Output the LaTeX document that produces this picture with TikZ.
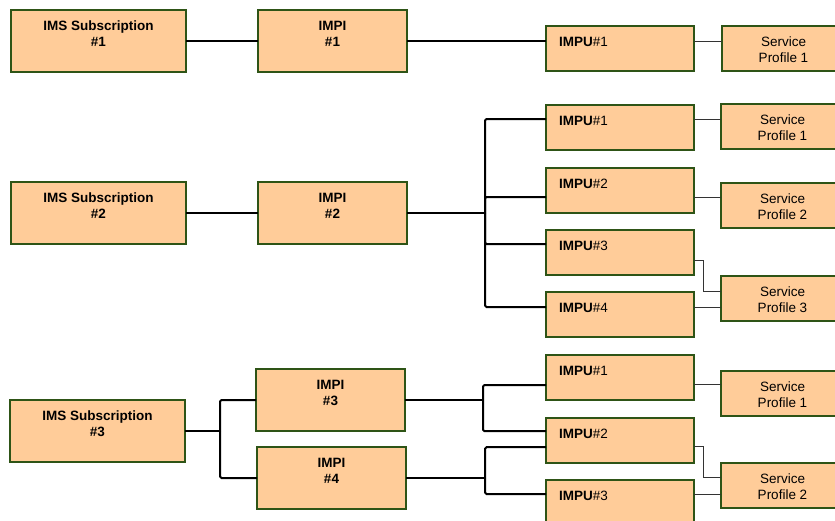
\documentclass[tikz,border=0pt]{standalone}
\usepackage{fontspec}
\setmainfont{Liberation Sans}

\definecolor{boxfill}{RGB}{255,204,153}
\definecolor{boxline}{RGB}{46,84,22}
\definecolor{linkgray}{RGB}{51,51,51}

\newcommand{\boxfont}{\fontsize{13.5}{16}\selectfont}
\newcommand{\threelines}[2]{\rule{0pt}{15.5pt}#1\\\strut#2\\\strut}
\newcommand{\twolines}[2]{\rule{0pt}{16.5pt}#1\\\strut#2}

\begin{document}
\begin{tikzpicture}[x=1pt,y=-1pt,
    box/.style={draw=boxline, fill=boxfill, line width=1.2pt, anchor=north west,
        inner sep=0pt, outer sep=0pt, font=\boxfont, align=center},
    subbox/.style={box, minimum width=175pt, minimum height=62pt, font=\boxfont\bfseries},
    impibox/.style={box, minimum width=149pt, minimum height=62pt, font=\boxfont\bfseries},
    impubox/.style={box, minimum width=148pt, minimum height=45pt, align=left,
        inner xsep=13pt, text width=122pt},
    spbox/.style={box, minimum width=123pt, minimum height=45pt},
    trunk/.style={line width=2pt, black, rounded corners=1.5pt},
    link/.style={line width=1pt, linkgray}]
    \useasboundingbox (0,0) rectangle (835,520);

    % subscription #1
    \node[subbox] (sub1) at (11,10) {\threelines{IMS Subscription}{\#1}};
    \node[impibox] (impi1) at (258,10) {\threelines{IMPI}{\#1}};
    \node[impubox] (impu11) at (546,26) {\twolines{\textbf{IMPU}\#1}{}};
    \node[spbox] (sp11) at (722,26) {\twolines{Service}{Profile 1}};

    \draw[trunk] (sub1) -- (impi1);
    \draw[trunk] (impi1.east) -- (impi1.east -| impu11.west);
    \draw[link] ([yshift=7pt]impu11.east) coordinate (p11) -- (p11 -| sp11.west);

    % subscription #2
    \node[subbox] (sub2) at (11,182) {\threelines{IMS Subscription}{\#2}};
    \node[impibox] (impi2) at (258,182) {\threelines{IMPI}{\#2}};
    \node[impubox] (impu21) at (546,105) {\twolines{\textbf{IMPU}\#1}{}};
    \node[impubox] (impu22) at (546,168) {\twolines{\textbf{IMPU}\#2}{}};
    \node[impubox] (impu23) at (546,230) {\twolines{\textbf{IMPU}\#3}{}};
    \node[impubox] (impu24) at (546,292) {\twolines{\textbf{IMPU}\#4}{}};
    \node[spbox] (sp21) at (721,104) {\twolines{Service}{Profile 1}};
    \node[spbox] (sp22) at (721,183) {\twolines{Service}{Profile 2}};
    \node[spbox] (sp23) at (721,276) {\twolines{Service}{Profile 3}};

    \coordinate (bus2) at (485,213);
    \draw[trunk] (sub2) -- (impi2);
    \draw[trunk] (impi2.east) -- (bus2);
    \foreach \n/\s in {1/8.5,2/-6.5,3/8.5,4/7.5}
        \draw[trunk] (bus2) |- ([yshift=\s pt]impu2\n.west);

    \draw[link] ([yshift=8.5pt]impu21.east) coordinate (p21) -- (p21 -| sp21.west);
    \draw[link] ([yshift=-6.5pt]impu22.east) coordinate (p22) -- (p22 -| sp22.west);
    \draw[link] ([yshift=-7.5pt]impu23.east) -- ++(9,0) |- ([yshift=7.5pt]sp23.west);
    \draw[link] ([yshift=7.5pt]impu24.east) coordinate (p24) -- (p24 -| sp23.west);

    % subscription #3
    \node[subbox] (sub3) at (10,400) {\threelines{IMS Subscription}{\#3}};
    \node[impibox] (impi3) at (256,369) {\threelines{IMPI}{\#3}};
    \node[impibox] (impi4) at (257,447) {\threelines{IMPI}{\#4}};
    \node[impubox] (impu31) at (546,355) {\twolines{\textbf{IMPU}\#1}{}};
    \node[impubox] (impu32) at (546,418) {\twolines{\textbf{IMPU}\#2}{}};
    \node[impubox] (impu33) at (546,480) {\twolines{\textbf{IMPU}\#3}{}};
    \node[spbox] (sp31) at (721,371) {\twolines{Service}{Profile 1}};
    \node[spbox] (sp32) at (721,463) {\twolines{Service}{Profile 2}};

    \coordinate (bus3) at (220,431);
    \draw[trunk] (sub3.east) -- (bus3);
    \draw[trunk] (bus3) |- (impi3.west);
    \draw[trunk] (bus3) |- (impi4.west);

    \coordinate (bus33) at (483,400);
    \draw[trunk] (impi3.east) -- (bus33);
    \draw[trunk] (bus33) |- ([yshift=-7.5pt]impu31.west);
    \draw[trunk] (bus33) |- ([yshift=9.3pt]impu32.west);

    \coordinate (bus34) at (485,478);
    \draw[trunk] (impi4.east) -- (bus34);
    \draw[trunk] (bus34) |- ([yshift=-6.7pt]impu32.west);
    \draw[trunk] (bus34) |- ([yshift=8.5pt]impu33.west);

    \draw[link] ([yshift=-6.5pt]impu31.east) coordinate (p31) -- (p31 -| sp31.west);
    \draw[link] ([yshift=-6.2pt]impu32.east) -- ++(9,0) |- ([yshift=8.5pt]sp32.west);
    \draw[link] ([yshift=8.5pt]impu33.east) coordinate (p33) -- (p33 -| sp32.west);
\end{tikzpicture}
\end{document}
